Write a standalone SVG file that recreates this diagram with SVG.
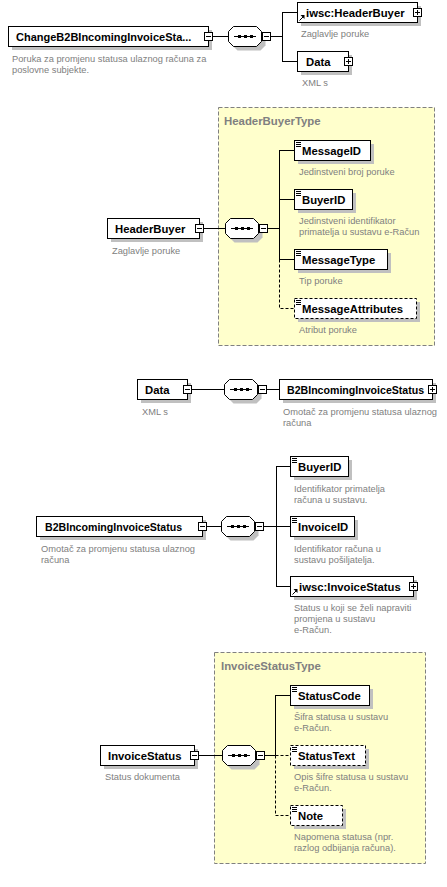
<svg xmlns="http://www.w3.org/2000/svg" xmlns:xlink="http://www.w3.org/1999/xlink" width="447" height="887" viewBox="0 0 447 887">
<style>
.sh{fill:#c0c0c0}
.bx{fill:#fff;stroke:#000;stroke-width:1}
.opt{stroke-dasharray:3,2}
.t{font-family:"Liberation Sans",Arial,sans-serif;font-weight:bold;font-size:11.3px;fill:#000}
.tn{font-size:10.6px}
.tr{font-size:11px}
.d{font-family:"Liberation Sans",Arial,sans-serif;font-size:9.3px;fill:#808080}
.ttl{font-family:"Liberation Sans",Arial,sans-serif;font-weight:bold;font-size:11.4px;fill:#808080}
.ln{stroke:#000;stroke-width:1;fill:none}
.dl{stroke-dasharray:3,2}
.frame{fill:#ffffcc;stroke:#808080;stroke-width:1;stroke-dasharray:4,2}
.ic{stroke:#000;stroke-width:1;fill:none}
</style>
<defs>
<g id="minus"><rect x="0.5" y="0.5" width="8" height="8" class="bx"/><path d="M2,4.5H7" class="ic"/></g>
<g id="plus"><rect x="0.5" y="0.5" width="8" height="8" class="bx"/><path d="M2,4.5H7M4.5,2V7" class="ic"/></g>
<g id="seq">
<polygon points="9.5,4.5 32.5,4.5 37.5,9.5 37.5,19.5 32.5,24.5 9.5,24.5 4.5,19.5 4.5,9.5" class="sh"/>
<polygon points="5.5,0.5 28.5,0.5 33.5,5.5 33.5,15.5 28.5,20.5 5.5,20.5 0.5,15.5 0.5,5.5" class="bx"/>
<path d="M6,10.5H28" class="ic"/>
<rect x="10" y="9" width="3" height="3"/><rect x="16" y="9" width="3" height="3"/><rect x="22" y="9" width="3" height="3"/>
<use xlink:href="#minus" x="34" y="6"/>
</g>
<path id="lines" d="M2,2.5H7M2,4.5H7M2,6.5H7" class="ic"/>
<g id="ref"><path d="M2.5,18.5L6,15" class="ic" stroke-width="1.5"/><polygon points="3.5,13 7.5,13 7.5,17"/></g>
</defs>

<g id="HeaderBuyerType">
<rect x="218.5" y="107.5" width="216" height="238" class="frame"/>
<text x="224" y="125" class="ttl">HeaderBuyerType</text>
</g>
<g id="InvoiceStatusType">
<rect x="214.5" y="652.5" width="211" height="211" class="frame"/>
<text x="221" y="670" class="ttl">InvoiceStatusType</text>
</g>

<g id="connectors">
<path class="ln" d="M213,36.5H228M271,36.5H282.5M282.5,12V62M282,12.5H297M282,61.5H297"/>
<path class="ln" d="M204,228.5H225M268,228.5H279.5M279.5,150V259.5M279,150.5H294M279,199.5H294M279,259.5H294"/>
<path class="ln dl" d="M279.5,259.5V308.5H294"/>
<path class="ln" d="M192,389.5H224M267,389.5H279"/>
<path class="ln" d="M207,526.5H221M264,526.5H276.5M276.5,466V587M276,466.5H290M276,526.5H290M276,586.5H290"/>
<path class="ln" d="M199,755.5H222M265,755.5H275.5M275.5,695V755.5M275,695.5H290"/>
<path class="ln dl" d="M275.5,755.5V815.5H290M275.5,755.5H290"/>
</g>

<g id="ChangeB2BIncomingInvoiceStatus" transform="translate(8,26)">
<rect x="4" y="4" width="200" height="20" class="sh"/>
<rect x="0.5" y="0.5" width="200" height="20" class="bx"/>
<text x="8" y="15" class="t tr">ChangeB2BIncomingInvoiceSta...</text>
<use xlink:href="#minus" x="196" y="6"/>
</g>
<text class="d" x="12" y="62">Poruka za promjenu statusa ulaznog računa za</text>
<text class="d" x="12" y="73">poslovne subjekte.</text>
<g id="seq1"><use xlink:href="#seq" x="228" y="26"/></g>

<g id="iwsc-HeaderBuyer" transform="translate(297,2)">
<rect x="4" y="4" width="120" height="20" class="sh"/>
<rect x="0.5" y="0.5" width="120" height="20" class="bx"/>
<use xlink:href="#ref"/>
<text x="9" y="15" class="t">iwsc:HeaderBuyer</text>
<use xlink:href="#plus" x="116" y="6"/>
<text class="d" x="4" y="35">Zaglavlje poruke</text>
</g>
<g id="Data1" transform="translate(297,51)">
<rect x="4" y="4" width="51" height="20" class="sh"/>
<rect x="0.5" y="0.5" width="51" height="20" class="bx"/>
<text x="9" y="15" class="t">Data</text>
<use xlink:href="#plus" x="47" y="6"/>
<text class="d" x="5" y="35">XML s</text>
</g>

<g id="HeaderBuyer" transform="translate(107,218)">
<rect x="4" y="4" width="92" height="20" class="sh"/>
<rect x="0.5" y="0.5" width="92" height="20" class="bx"/>
<text x="8" y="15" class="t">HeaderBuyer</text>
<use xlink:href="#minus" x="88" y="6"/>
<text class="d" x="5" y="36">Zaglavlje poruke</text>
</g>
<g id="seq2"><use xlink:href="#seq" x="225" y="218"/></g>
<g id="MessageID" transform="translate(294,140)">
<rect x="4" y="4" width="76" height="20" class="sh"/>
<rect x="0.5" y="0.5" width="76" height="20" class="bx"/>
<use xlink:href="#lines"/>
<text x="8" y="15" class="t">MessageID</text>
<text class="d" x="5" y="35">Jedinstveni broj poruke</text>
</g>
<g id="BuyerID1" transform="translate(294,189)">
<rect x="4" y="4" width="58" height="20" class="sh"/>
<rect x="0.5" y="0.5" width="58" height="20" class="bx"/>
<use xlink:href="#lines"/>
<text x="8" y="15" class="t">BuyerID</text>
<text class="d" x="5" y="35">Jedinstveni identifikator</text>
<text class="d" x="5" y="46">primatelja u sustavu e-Račun</text>
</g>
<g id="MessageType" transform="translate(294,249)">
<rect x="4" y="4" width="93" height="20" class="sh"/>
<rect x="0.5" y="0.5" width="93" height="20" class="bx"/>
<use xlink:href="#lines"/>
<text x="8" y="15" class="t">MessageType</text>
<text class="d" x="5" y="35">Tip poruke</text>
</g>
<g id="MessageAttributes" transform="translate(294,298)">
<rect x="4" y="4" width="122" height="20" class="sh"/>
<rect x="0.5" y="0.5" width="122" height="20" class="bx opt"/>
<use xlink:href="#lines"/>
<text x="8" y="15" class="t">MessageAttributes</text>
<text class="d" x="5" y="35">Atribut poruke</text>
</g>

<g id="Data2" transform="translate(137,379)">
<rect x="4" y="4" width="50" height="20" class="sh"/>
<rect x="0.5" y="0.5" width="50" height="20" class="bx"/>
<text x="8" y="15" class="t">Data</text>
<use xlink:href="#minus" x="46" y="6"/>
<text class="d" x="5" y="36">XML s</text>
</g>
<g id="seq3"><use xlink:href="#seq" x="224" y="379"/></g>
<g id="B2BIncomingInvoiceStatus1" transform="translate(279,379)">
<rect x="4" y="4" width="153" height="20" class="sh"/>
<rect x="0.5" y="0.5" width="153" height="20" class="bx"/>
<text x="8" y="15" class="t tn">B2BIncomingInvoiceStatus</text>
<use xlink:href="#plus" x="149" y="6"/>
<text class="d" x="4" y="36">Omotač za promjenu statusa ulaznog</text>
<text class="d" x="4" y="47">računa</text>
</g>

<g id="B2BIncomingInvoiceStatus2" transform="translate(36,516)">
<rect x="4" y="4" width="166" height="20" class="sh"/>
<rect x="0.5" y="0.5" width="166" height="20" class="bx"/>
<text x="9" y="15" class="t tn">B2BIncomingInvoiceStatus</text>
<use xlink:href="#minus" x="162" y="6"/>
<text class="d" x="5" y="36">Omotač za promjenu statusa ulaznog</text>
<text class="d" x="5" y="47">računa</text>
</g>
<g id="seq4"><use xlink:href="#seq" x="221" y="516"/></g>
<g id="BuyerID2" transform="translate(290,456)">
<rect x="4" y="4" width="58" height="20" class="sh"/>
<rect x="0.5" y="0.5" width="58" height="20" class="bx"/>
<use xlink:href="#lines"/>
<text x="8" y="15" class="t">BuyerID</text>
<text class="d" x="4" y="36">Identifikator primatelja</text>
<text class="d" x="4" y="47">računa u sustavu.</text>
</g>
<g id="InvoiceID" transform="translate(290,516)">
<rect x="4" y="4" width="64" height="20" class="sh"/>
<rect x="0.5" y="0.5" width="64" height="20" class="bx"/>
<use xlink:href="#lines"/>
<text x="8" y="15" class="t">InvoiceID</text>
<text class="d" x="4" y="36">Identifikator računa u</text>
<text class="d" x="4" y="47">sustavu pošiljatelja.</text>
</g>
<g id="iwsc-InvoiceStatus" transform="translate(290,576)">
<rect x="4" y="4" width="123" height="20" class="sh"/>
<rect x="0.5" y="0.5" width="123" height="20" class="bx"/>
<use xlink:href="#ref"/>
<text x="9" y="15" class="t">iwsc:InvoiceStatus</text>
<use xlink:href="#plus" x="119" y="6"/>
<text class="d" x="4" y="35">Status u koji se želi napraviti</text>
<text class="d" x="4" y="46">promjena u sustavu</text>
<text class="d" x="4" y="57">e-Račun.</text>
</g>

<g id="InvoiceStatus" transform="translate(100,745)">
<rect x="4" y="4" width="94" height="20" class="sh"/>
<rect x="0.5" y="0.5" width="94" height="20" class="bx"/>
<text x="8" y="15" class="t">InvoiceStatus</text>
<use xlink:href="#minus" x="90" y="6"/>
<text class="d" x="5" y="35">Status dokumenta</text>
</g>
<g id="seq5"><use xlink:href="#seq" x="222" y="745"/></g>
<g id="StatusCode" transform="translate(290,685)">
<rect x="4" y="4" width="79" height="20" class="sh"/>
<rect x="0.5" y="0.5" width="79" height="20" class="bx"/>
<use xlink:href="#lines"/>
<text x="8" y="15" class="t">StatusCode</text>
<text class="d" x="4" y="35">Šifra statusa u sustavu</text>
<text class="d" x="4" y="46">e-Račun.</text>
</g>
<g id="StatusText" transform="translate(290,745)">
<rect x="4" y="4" width="75" height="20" class="sh"/>
<rect x="0.5" y="0.5" width="75" height="20" class="bx opt"/>
<use xlink:href="#lines"/>
<text x="8" y="15" class="t">StatusText</text>
<text class="d" x="4" y="35">Opis šifre statusa u sustavu</text>
<text class="d" x="4" y="46">e-Račun.</text>
</g>
<g id="Note" transform="translate(290,805)">
<rect x="4" y="4" width="52" height="20" class="sh"/>
<rect x="0.5" y="0.5" width="52" height="20" class="bx opt"/>
<use xlink:href="#lines"/>
<text x="8" y="15" class="t">Note</text>
<text class="d" x="4" y="35">Napomena statusa (npr.</text>
<text class="d" x="4" y="46">razlog odbijanja računa).</text>
</g>
</svg>
